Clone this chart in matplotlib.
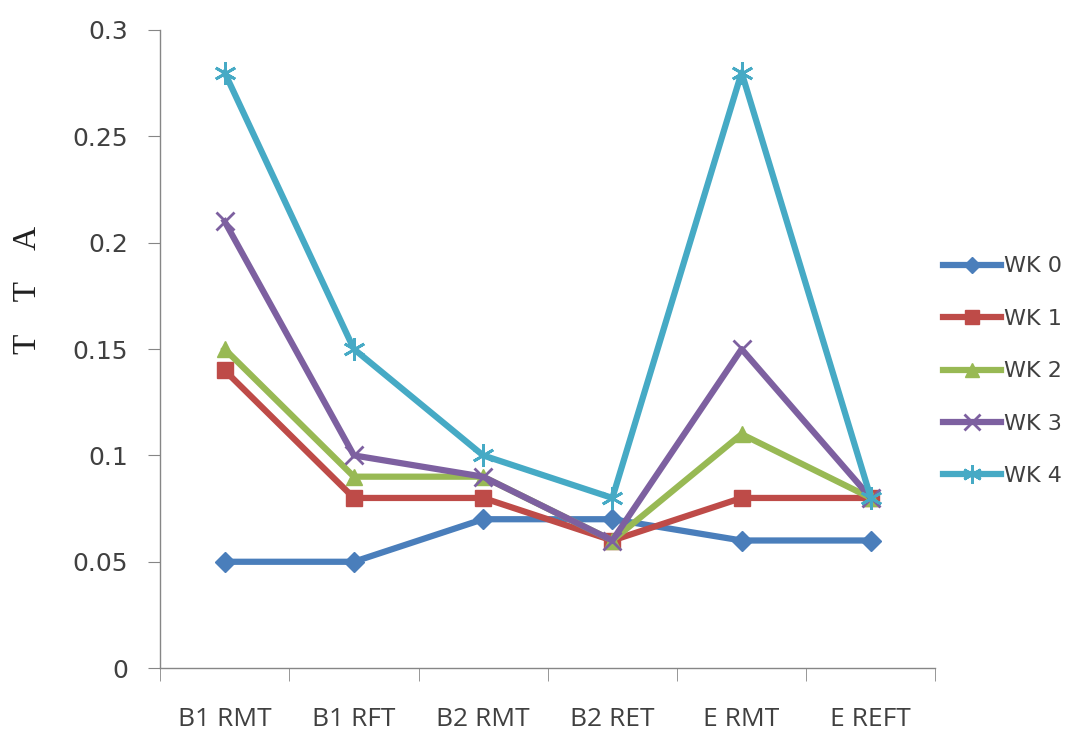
import matplotlib.pyplot as plt
import numpy as np

# categories and weekly series
categories = ["B1 RMT", "B1 RFT", "B2 RMT", "B2 RET", "E RMT", "E REFT"]
wk0 = [0.05, 0.05, 0.07, 0.07, 0.06, 0.06]
wk1 = [0.14, 0.08, 0.08, 0.06, 0.08, 0.08]
wk2 = [0.15, 0.09, 0.09, 0.06, 0.11, 0.08]
wk3 = [0.21, 0.10, 0.09, 0.06, 0.15, 0.08]
wk4 = [0.28, 0.15, 0.10, 0.08, 0.28, 0.08]
series_names = ["WK 0", "WK 1", "WK 2", "WK 3", "WK 4"]
y_ticks = [0, 0.05, 0.1, 0.15, 0.2, 0.25, 0.3]
y_tick_labels = ["0", "0.05", "0.1", "0.15", "0.2", "0.25", "0.3"]

colors = ["#4a7ebb", "#be4b48", "#98b954", "#7d60a0", "#46aac5"]
markers = ["D", "s", "^", "x", (6, 2, 0)]
msizes = [10, 12, 12, 13, 16]

fig = plt.figure(figsize=(10.74, 7.31), dpi=100)
ax = fig.add_axes([0.149, 0.086, 0.722, 0.873])

x = np.arange(len(categories))
for vals, name, c, m, ms in zip([wk0, wk1, wk2, wk3, wk4], series_names, colors, markers, msizes):
    ax.plot(x, vals, color=c, lw=4.5, marker=m, markersize=ms,
            markeredgewidth=2 if m in ("x", (6, 2, 0)) else 1,
            markeredgecolor=c, markerfacecolor=c, label=name)

ax.set_xlim(-0.5, len(categories) - 0.5)
ax.set_ylim(0, 0.3)
ax.set_yticks(y_ticks)
ax.set_yticklabels(y_tick_labels)
ax.set_xticks(x)
ax.set_xticklabels(categories, family="Open Sans", fontsize=19)
ax.set_xticks(np.arange(-0.5, len(categories)), minor=True)
ax.tick_params(axis="x", which="major", length=0, pad=28, labelcolor="#404040")
ax.tick_params(axis="x", which="minor", length=9, color="#868686", direction="out")
ax.tick_params(axis="y", length=9, color="#868686", labelsize=18, labelcolor="#404040", pad=14)

for side in ("top", "right"):
    ax.spines[side].set_visible(False)
for side in ("left", "bottom"):
    ax.spines[side].set_color("#868686")
    ax.spines[side].set_linewidth(1)

fig.text(0.026, 0.603, "T    T    A", rotation=90, family="Liberation Serif",
         fontsize=24, ha="center", va="center", color="#202020")

leg = fig.legend(loc="center left", bbox_to_anchor=(0.878, 0.492), frameon=False,
                 fontsize=16, handlelength=2.6, handletextpad=0.15, labelspacing=1.46,
                 borderaxespad=0, borderpad=0, labelcolor="#404040", markerscale=0.85)

fig.savefig("out.png", dpi=100)
